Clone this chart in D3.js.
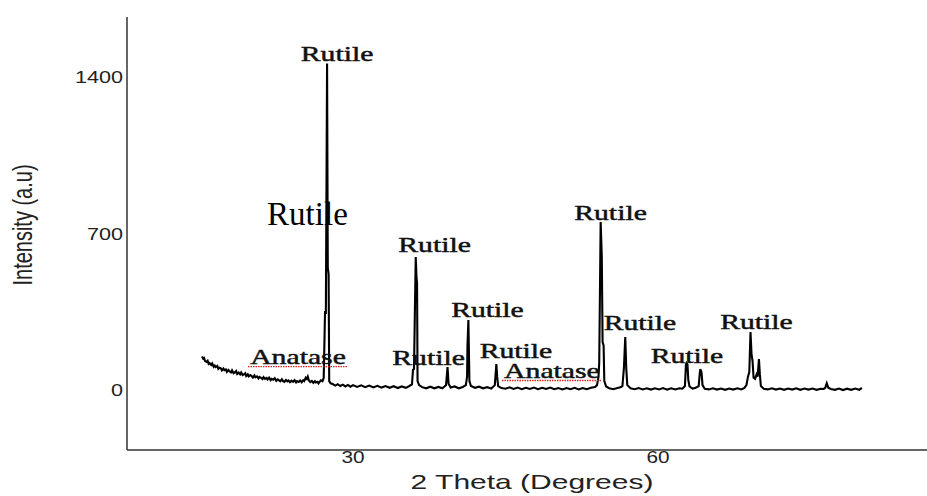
<!DOCTYPE html>
<html lang="en">
<head>
<meta charset="UTF-8">
<title>XRD pattern</title>
<script src="https://cdnjs.cloudflare.com/ajax/libs/d3/7.8.5/d3.min.js"></script>
<style>
	body { margin: 0; background: #fff; }
	svg { display: block; }
</style>
<script>
// 2 theta (deg), intensity (a.u.)
var pattern = [
	[15.15,150],[15.25,141],[15.35,144],[15.45,130],[15.6,126],[15.7,131],[15.8,117],[15.9,121],[16.05,112],[16.15,119],
	[16.3,104],[16.4,110],[16.5,103],[16.65,108],[16.75,95],[16.85,100],[17.0,97],[17.1,88],[17.25,96],[17.35,89],
	[17.5,92],[17.6,81],[17.75,90],[17.85,84],[18.0,79],[18.1,88],[18.25,75],[18.4,80],[18.5,85],[18.6,72],
	[18.75,78],[18.9,70],[19.0,79],[19.15,67],[19.3,71],[19.4,75],[19.5,63],[19.65,70],[19.75,61],[19.9,67],
	[20.0,64],[20.15,56],[20.3,65],[20.4,57],[20.55,61],[20.7,52],[20.8,59],[20.95,55],[21.1,49],[21.2,58],
	[21.35,50],[21.5,54],[21.6,47],[21.75,56],[21.9,44],[22.0,50],[22.15,46],[22.3,53],[22.45,41],[22.6,48],
	[22.7,44],[22.85,39],[23.0,48],[23.1,41],[23.25,37],[23.4,45],[23.55,39],[23.65,43],[23.8,35],[23.95,42],
	[24.1,37],[24.25,44],[24.4,34],[24.5,40],[24.65,36],[24.8,43],[24.95,35],[25.1,44],[25.2,40],[25.35,55],
	[25.45,50],[25.55,60],[25.65,44],[25.8,36],[25.95,41],[26.1,32],[26.25,40],[26.35,34],[26.5,37],[26.6,30],
	[26.75,39],[26.85,44],[27.0,40],
	[27.12,55],[27.25,353],[27.33,340],[27.45,1460],[27.52,546],[27.6,520],[27.66,40],[27.8,30],
	[28.0,27],[28.25,20],[28.5,26],[28.75,18],[29.0,24],[29.25,16],[29.5,23],[29.75,15],[30.0,22],
	[30.4,14],[30.8,21],[31.2,13],[31.6,20],[32.0,12],[32.4,19],[32.8,11],[33.2,18],[33.6,10],[34.0,17],
	[34.4,9],[34.8,16],[35.2,10],[35.5,17],[35.8,25],[35.9,90],[36.0,95],[36.17,595],[36.25,500],[36.3,480],
	[36.35,40],[36.5,22],[36.8,13],[37.2,8],[37.6,15],[38.0,8],[38.4,14],[38.8,8],[39.0,16],
	[39.15,22],[39.3,103],[39.4,28],[39.6,11],[40.0,16],[40.4,8],[40.8,14],[41.1,22],
	[41.22,60],[41.26,200],[41.35,313],[41.45,40],[41.6,18],[42.0,10],[42.4,15],[42.8,8],[43.2,13],[43.6,7],
	[43.95,22],[44.1,116],[44.18,60],[44.28,18],[44.6,9],[45.0,6],[45.4,12],[45.8,5],[46.2,11],[46.6,4],
	[47.0,10],[47.4,5],[47.8,11],[48.2,4],[48.6,10],[49.0,5],[49.4,11],[49.8,4],[50.2,9],[50.6,3],
	[51.0,9],[51.4,4],[51.8,10],[52.2,3],[52.6,9],[53.0,4],[53.4,10],[53.8,14],[54.0,22],
	[54.15,60],[54.22,125],[54.36,751],[54.47,600],[54.55,215],[54.65,200],[54.72,40],[54.9,16],
	[55.2,8],[55.6,4],[56.0,9],[56.3,12],[56.5,18],[56.65,100],[56.78,237],[56.88,95],[56.98,22],
	[57.3,8],[57.7,4],[58.1,9],[58.5,3],[58.9,8],[59.3,2],[59.7,8],[60.1,3],[60.5,9],[60.9,2],
	[61.3,8],[61.7,3],[62.1,8],[62.4,6],[62.65,18],[62.75,115],[62.82,121],[62.9,115],[62.98,45],[63.1,16],
	[63.4,6],[63.7,10],[64.0,18],[64.1,70],[64.16,94],[64.28,80],[64.38,22],[64.6,6],[65.0,3],[65.4,8],
	[65.8,2],[66.2,7],[66.6,1],[67.0,7],[67.4,2],[67.8,8],[68.2,3],[68.5,10],[68.7,22],[68.85,60],
	[68.98,80],[69.1,259],[69.2,160],[69.3,130],[69.4,55],[69.55,50],[69.7,70],[69.8,60],[69.93,139],[70.02,70],
	[70.12,18],[70.4,6],[70.8,3],[71.2,8],[71.6,2],[72.0,7],[72.4,1],[72.8,7],[73.2,2],[73.6,8],
	[74.0,1],[74.4,7],[74.8,2],[75.2,7],[75.6,1],[76.0,6],[76.3,5],[76.45,10],[76.6,30],[76.75,10],
	[77.0,5],[77.4,1],[77.8,7],[78.2,0],[78.6,6],[79.0,1],[79.4,7],[79.8,1],[80.05,10]
];

var yTicks = [0, 700, 1400];
var xTicks = [30, 60];

// phase labels: text, 2 theta, intensity of the text baseline
var labelText  = ["Rutile", "Rutile", "Rutile", "Rutile", "Rutile", "Anatase", "Anatase", "Rutile", "Rutile", "Rutile", "Rutile"];
var labelTheta = [28.43, 38.02, 43.23, 37.43, 46.03, 24.59, 49.57, 55.33, 58.23, 62.85, 69.69];
var labelValue = [1472, 617, 326, 112, 143, 116, 54, 760, 268, 121, 273];
var bigLabel = { text: "Rutile", theta: 25.52, value: 738 };

function draw() {
	var W = 927, H = 496;
	var svg = d3.select("body").append("svg").attr("width", W).attr("height", H);

	var x = d3.scaleLinear().domain([7.77, 86.46]).range([127, 927]);
	var y = d3.scaleLinear().domain([-268, 1668]).range([450, 17]);

	var sx = 1.45; // text in the source is stretched sideways

	// axes lines, no tick marks
	svg.append("line").attr("x1", 127).attr("x2", 127).attr("y1", 17).attr("y2", 450)
		.attr("stroke", "#333").attr("stroke-width", 1.5);
	svg.append("line").attr("x1", 127).attr("x2", 927).attr("y1", 450).attr("y2", 450)
		.attr("stroke", "#333").attr("stroke-width", 1.5);

	svg.selectAll("text.ytick").data(yTicks).enter().append("text")
		.attr("class", "ytick")
		.attr("transform", d => `translate(123,${y(d) + 6}) scale(1.35,1)`)
		.attr("text-anchor", "end")
		.attr("font-family", "Liberation Sans, Arial, sans-serif")
		.attr("font-size", 16)
		.attr("fill", "#222")
		.text(d => d);

	svg.selectAll("text.xtick").data(xTicks).enter().append("text")
		.attr("class", "xtick")
		.attr("transform", d => `translate(${x(d)},463) scale(1.3,1)`)
		.attr("text-anchor", "middle")
		.attr("font-family", "Liberation Sans, Arial, sans-serif")
		.attr("font-size", 16)
		.attr("fill", "#222")
		.text(d => d);

	svg.append("text")
		.attr("transform", `translate(532,489) scale(1.5,1)`)
		.attr("text-anchor", "middle")
		.attr("font-family", "Liberation Sans, Arial, sans-serif")
		.attr("font-size", 20)
		.attr("fill", "#222")
		.text("2 Theta (Degrees)");

	svg.append("text")
		.attr("transform", `translate(32,225) scale(1.36,1) rotate(-90)`)
		.attr("text-anchor", "middle")
		.attr("font-family", "Liberation Sans, Arial, sans-serif")
		.attr("font-size", 20)
		.attr("fill", "#222")
		.text("Intensity (a.u)");

	// pattern
	var line = d3.line().x(d => x(d[0])).y(d => y(d[1]));
	svg.append("path")
		.attr("d", line(pattern))
		.attr("fill", "none")
		.attr("stroke", "#000")
		.attr("stroke-width", 2.1)
		.attr("stroke-linejoin", "miter");

	// labels
	var idx = d3.range(labelText.length);
	var lab = svg.selectAll("g.lab").data(idx).enter().append("g")
		.attr("class", "lab")
		.attr("transform", i => `translate(${x(labelTheta[i])},${y(labelValue[i])})`);
	lab.append("text")
		.attr("transform", `scale(${sx},1)`)
		.attr("text-anchor", "middle")
		.attr("font-family", "Liberation Serif, Times New Roman, serif")
		.attr("font-size", 20.5)
		.attr("fill", "#111")
		.attr("stroke", "#111")
		.attr("stroke-width", 0.45)
		.text(i => labelText[i]);
	// red spell-check underline below "Anatase"
	lab.filter(i => labelText[i] === "Anatase").append("line")
		.attr("x1", -50).attr("x2", 50).attr("y1", 2.5).attr("y2", 2.5)
		.attr("stroke", "#e02020").attr("stroke-width", 1.3)
		.attr("stroke-dasharray", "1.5,1");

	svg.append("text")
		.attr("x", x(bigLabel.theta)).attr("y", y(bigLabel.value))
		.attr("text-anchor", "middle")
		.attr("font-family", "Liberation Serif, Times New Roman, serif")
		.attr("font-size", 33)
		.attr("fill", "#000")
		.text(bigLabel.text);
}
</script>
</head>
<body onload="draw()">
</body>
</html>
